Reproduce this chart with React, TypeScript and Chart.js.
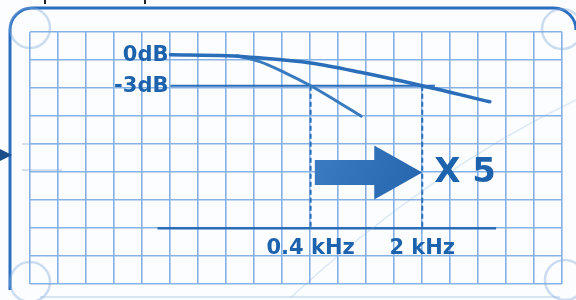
import React, { useEffect, useRef } from "react";
import { Chart, registerables } from "chart.js";

Chart.register(...registerables);

// Frequency (kHz) / level (dB) readings of the two response curves
const wideFreq = [0.053, 0.12, 0.19, 0.4, 0.82, 2.0, 5.3];
const wideDb = [0, -0.1, -0.3, -0.8, -1.7, -3.0, -4.55];
const narrowFreq = [0.138, 0.19, 0.277, 0.4, 0.57, 0.83];
const narrowDb = [-0.1, -0.65, -1.75, -3.0, -4.4, -5.95];

// reference lines
const refFreq = [0.053, 2.4];
const refDb = [-3, -3];
const baseFreq = [0.044, 5.8];
const baseDb = -16.8;

// cutoff markers
const cutoffFreqs = [0.4, 2];
const cutoffLabels = ["0.4 kHz", "2 kHz"];
const levelDbs = [0, -3];
const levelLabels = ["0dB", "-3dB"];
const factorLabel = "X 5";
const arrowFreq = [0.425, 2];
const arrowDb = -11.4;

const BLUE = "#1d62ad";
const LINE = "#2a6db8";
const GRID = "#86b1e6";
const FONT = "'DejaVu Sans', sans-serif";

const pts = (xs: number[], ys: number[]) => xs.map((x, i) => ({ x, y: ys[i] }));

export default function App() {
  const ref = useRef<HTMLCanvasElement>(null);
  useEffect(() => {
    const canvas = ref.current!;
    const decor = {
      id: "decor",
      beforeDraw(chart: any) {
        const ctx = chart.ctx;
        ctx.save();
        ctx.fillStyle = "#fcfdfe";
        ctx.fillRect(0, 0, chart.width, chart.height);
        // frame
        ctx.strokeStyle = "#2a6fbf";
        ctx.lineWidth = 3;
        ctx.beginPath();
        ctx.moveTo(10, 290);
        ctx.lineTo(10, 30);
        ctx.arcTo(10, 8, 32, 8, 22);
        ctx.lineTo(552, 8);
        ctx.arcTo(576, 8, 576, 32, 22);
        ctx.stroke();
        ctx.strokeStyle = "rgba(150,185,225,0.35)";
        ctx.lineWidth = 2;
        ctx.beginPath();
        ctx.moveTo(40, 297);
        ctx.lineTo(560, 297);
        ctx.stroke();
        // left marker
        ctx.fillStyle = "#1a4f8c";
        ctx.beginPath();
        ctx.moveTo(0, 149);
        ctx.lineTo(12, 155);
        ctx.lineTo(0, 161);
        ctx.closePath();
        ctx.fill();
        ctx.strokeStyle = "rgba(120,160,210,0.3)";
        ctx.lineWidth = 2;
        ctx.beginPath();
        ctx.moveTo(22, 144);
        ctx.lineTo(60, 144);
        ctx.moveTo(22, 170);
        ctx.lineTo(62, 170);
        ctx.stroke();
        ctx.fillStyle = "#222";
        ctx.fillRect(44, 0, 2, 4);
        ctx.fillRect(144, 0, 2, 4);
        ctx.restore();
      },
      afterDatasetsDraw(chart: any) {
        const ctx = chart.ctx;
        const xs = chart.scales.x;
        const ys = chart.scales.y;
        ctx.save();
        // faint diagonal sweep
        ctx.strokeStyle = "rgba(140,180,225,0.28)";
        ctx.lineWidth = 1.5;
        ctx.beginPath();
        ctx.moveTo(290, 298);
        ctx.quadraticCurveTo(430, 170, 576, 100);
        ctx.stroke();
        // corner circles
        ctx.strokeStyle = "rgba(130,170,220,0.4)";
        ctx.lineWidth = 2.5;
        const ca = chart.chartArea;
        [[ca.left, ca.top - 4], [ca.right, ca.top - 3], [ca.left, ca.bottom - 2], [ca.right + 3, ca.bottom - 4]].forEach(([cx, cy]) => {
          ctx.beginPath();
          ctx.arc(cx, cy, 20, 0, Math.PI * 2);
          ctx.stroke();
        });
        ctx.fillStyle = BLUE;
        ctx.font = `bold 21px ${FONT}`;
        // level labels
        ctx.textAlign = "right";
        ctx.textBaseline = "middle";
        levelDbs.forEach((d, i) => {
          ctx.fillText(levelLabels[i], xs.getPixelForValue(refFreq[0]) - 2, ys.getPixelForValue(d) + 1);
        });
        // frequency labels
        ctx.textAlign = "center";
        cutoffFreqs.forEach((f, i) => {
          ctx.fillText(cutoffLabels[i], xs.getPixelForValue(f), ys.getPixelForValue(baseDb) + 20);
        });
        // arrow
        const x0 = xs.getPixelForValue(arrowFreq[0]);
        const x1 = xs.getPixelForValue(arrowFreq[1]);
        const yc = ys.getPixelForValue(arrowDb);
        const headX = x1 - 48;
        const grad = ctx.createLinearGradient(x0, yc - 27, x1, yc + 27);
        grad.addColorStop(0, "#3c7cc2");
        grad.addColorStop(1, "#2565ad");
        ctx.fillStyle = grad;
        ctx.beginPath();
        ctx.moveTo(x0, yc - 12.5);
        ctx.lineTo(headX, yc - 12.5);
        ctx.lineTo(headX, yc - 27);
        ctx.lineTo(x1, yc);
        ctx.lineTo(headX, yc + 27);
        ctx.lineTo(headX, yc + 12.5);
        ctx.lineTo(x0, yc + 12.5);
        ctx.closePath();
        ctx.fill();
        ctx.fillStyle = BLUE;
        ctx.font = `bold 34px ${FONT}`;
        ctx.textAlign = "left";
        ctx.textBaseline = "middle";
        ctx.fillText(factorLabel, x1 + 12, yc + 1);
        ctx.restore();
      },
    };

    const chart = new Chart(canvas, {
      type: "line",
      data: {
        datasets: [
          {
            label: "Wide",
            data: pts(wideFreq, wideDb),
            borderColor: LINE,
            borderWidth: 3.5,
            pointRadius: 0,
            cubicInterpolationMode: "monotone",
            borderCapStyle: "round",
          },
          {
            label: "Narrow",
            data: pts(narrowFreq, narrowDb),
            borderColor: "#3a7bc0",
            borderWidth: 3,
            pointRadius: 0,
            cubicInterpolationMode: "monotone",
            borderCapStyle: "round",
          },
          {
            label: "-3dB",
            data: pts(refFreq, refDb),
            borderColor: LINE,
            borderWidth: 2,
            pointRadius: 0,
          },
          {
            label: "base",
            data: pts(baseFreq, [baseDb, baseDb]),
            borderColor: LINE,
            borderWidth: 2.5,
            pointRadius: 0,
          },
          ...cutoffFreqs.map((f) => ({
            label: `cut ${f}`,
            data: pts([f, f], [-3, baseDb]),
            borderColor: LINE,
            borderWidth: 2,
            borderDash: [5, 3],
            pointRadius: 0,
          })),
        ],
      },
      options: {
        responsive: false,
        animation: false,
        layout: { padding: { left: 30, top: 32, right: 14, bottom: 16 } },
        plugins: { legend: { display: false }, tooltip: { enabled: false } },
        scales: {
          x: { type: "logarithmic", min: 0.007, max: 15, display: false },
          y: { type: "linear", min: -22.2, max: 2.2, display: false },
          gx: {
            type: "linear",
            position: "bottom",
            min: 0,
            max: 19,
            ticks: { display: false, stepSize: 1, autoSkip: false },
            grid: { color: GRID, lineWidth: 1.6, drawTicks: false },
            border: { display: false },
          },
          gy: {
            type: "linear",
            position: "left",
            min: 0,
            max: 9,
            ticks: { display: false, stepSize: 1, autoSkip: false },
            grid: { color: GRID, lineWidth: 1.6, drawTicks: false },
            border: { display: false },
          },
        },
      },
      plugins: [decor],
    } as any);
    return () => chart.destroy();
  }, []);
  return (
    <div style={{ position: "fixed", left: 0, top: 0, width: 576, height: 300 }}>
      <canvas ref={ref} width={576} height={300} />
    </div>
  );
}
